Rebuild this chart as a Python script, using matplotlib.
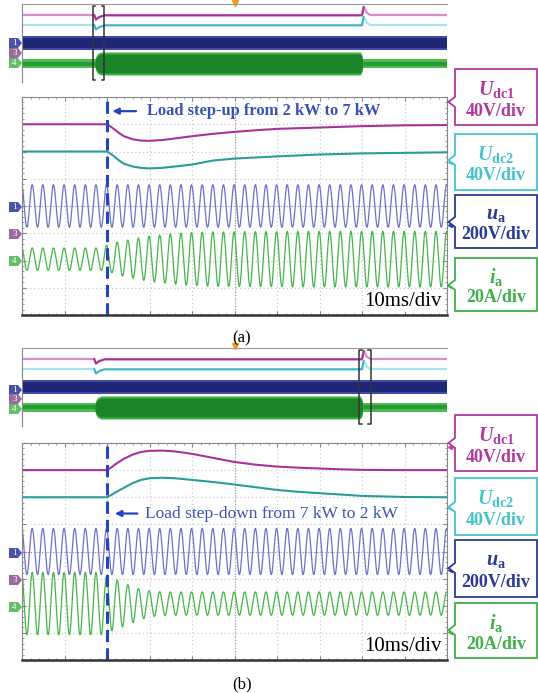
import matplotlib
matplotlib.use('Agg')
import matplotlib.pyplot as plt
import numpy as np
from matplotlib.patches import Polygon

plt.rcParams['font.family'] = ['Liberation Serif', 'DejaVu Serif']
plt.rcParams['mathtext.fontset'] = 'custom'
plt.rcParams['mathtext.it'] = 'Liberation Serif:italic:bold'
plt.rcParams['mathtext.rm'] = 'Liberation Serif:bold'
plt.rcParams['mathtext.bf'] = 'Liberation Serif:bold'

# ---------------- data (x: ms, y: divisions) ----------------
PERIOD_MS = 2.5          # 400 Hz
UA_PEAK_MS = 2.4         # first positive peak of ua
STEP_MS = 20

# (a) load step-up 2 kW -> 7 kW
udc1_t_a = [0, 20, 21, 22, 23, 24, 26, 28, 30, 33, 36, 40, 45, 50, 55, 60, 70, 80, 90, 100]
udc1_v_a = [3.0, 3.0, 2.9, 2.78, 2.66, 2.56, 2.45, 2.40, 2.39, 2.42, 2.48, 2.56, 2.65, 2.72, 2.78, 2.83, 2.88, 2.93, 2.96, 2.97]
udc2_t_a = [0, 20, 21, 22, 23, 24, 26, 28, 30, 33, 36, 40, 45, 50, 55, 60, 70, 80, 90, 100]
udc2_v_a = [2.0, 2.0, 1.9, 1.78, 1.65, 1.55, 1.45, 1.40, 1.38, 1.40, 1.45, 1.52, 1.67, 1.74, 1.78, 1.82, 1.89, 1.93, 1.95, 1.97]
ua_amp_a = 0.78
ia_center_a = -1.95
ia_amp_a = [0.41, 0.41, 0.41, 0.41, 0.41, 0.41, 0.41, 0.41, 0.50, 0.62,
            0.70, 0.78, 0.84, 0.88, 0.92, 0.95, 0.97, 0.99, 1.00, 1.00,
            1.00, 1.01, 1.01, 1.01, 1.01, 1.02, 1.02, 1.02, 1.02, 1.02,
            1.02, 1.02, 1.02, 1.02, 1.02, 1.02, 1.02, 1.02, 1.02, 1.02, 1.02]

# (b) load step-down 7 kW -> 2 kW
udc1_t_b = [0, 20, 21, 22, 24, 26, 28, 30, 33, 36, 40, 45, 50, 55, 60, 65, 70, 75, 80, 90, 100]
udc1_v_b = [3.0, 3.0, 3.1, 3.22, 3.42, 3.57, 3.67, 3.71, 3.72, 3.69, 3.60, 3.45, 3.30, 3.20, 3.13, 3.09, 3.06, 3.03, 3.01, 3.0, 3.0]
udc2_t_b = [0, 20, 21, 22, 24, 26, 28, 30, 33, 36, 40, 45, 50, 55, 60, 65, 70, 75, 80, 90, 100]
udc2_v_b = [2.0, 2.0, 2.08, 2.18, 2.35, 2.52, 2.64, 2.70, 2.72, 2.70, 2.64, 2.56, 2.47, 2.37, 2.27, 2.20, 2.15, 2.10, 2.05, 2.01, 2.0]
ua_amp_b = 0.85
ia_center_b = -1.92
ia_amp_b = [1.15, 1.15, 1.15, 1.15, 1.15, 1.15, 1.15, 1.15, 1.00, 0.86,
            0.70, 0.55, 0.47, 0.44, 0.43, 0.43, 0.43, 0.43, 0.43, 0.43,
            0.43, 0.43, 0.43, 0.43, 0.43, 0.43, 0.43, 0.43, 0.43, 0.43,
            0.43, 0.43, 0.43, 0.43, 0.43, 0.43, 0.43, 0.43, 0.43, 0.43, 0.43]

# overview strip (x: 0-100 of the long record, y: pixels below the strip top)
ov_t_udc1 = [0, 17.0, 17.4, 18.2, 19.5, 80.0, 80.4, 81.2, 82.0, 100]
ov_y_udc1 = [11, 11, 15.5, 13, 11.3, 11.3, 3, 9, 11, 11]
ov_t_udc2 = [0, 17.0, 17.4, 18.2, 19.5, 80.0, 80.4, 81.2, 82.0, 100]
ov_y_udc2 = [21, 21, 25.5, 23, 21.3, 21.3, 13, 19, 21, 21]
ov_ua_band = (32, 46)
ov_ia_band_light = (55, 64)
ov_ia_t = [17.0, 17.3, 17.8, 18.6, 79.6, 80.0, 80.3]
ov_ia_lo = [59.5, 53, 49.5, 48, 48, 51, 59.5]
ov_ia_hi = [59.5, 66, 69.5, 71, 71, 68, 59.5]
ov_heavy_window = (17.2, 80.2)

C_UDC1 = '#a8329a'
C_UDC2 = '#2a9d9a'
C_UA = '#6f6fcc'
C_IA = '#43b649'
C_DASH = '#2444c0'

W, H = 538, 693
fig = plt.figure(figsize=(W / 100, H / 100), dpi=100)


def px_axes(x0, y0, x1, y1):
    return fig.add_axes([x0 / W, 1 - y1 / H, (x1 - x0) / W, (y1 - y0) / H])


def sine_trace(t, amps, center):
    t0 = UA_PEAK_MS - PERIOD_MS / 4
    idx = np.clip(np.floor((t - t0) / PERIOD_MS).astype(int) + 1, 0, len(amps) - 1)
    a = np.asarray(amps)[idx]
    return center + a * np.sin(2 * np.pi * (t - t0) / PERIOD_MS)


def draw_overview(ax, bracket):
    ax.set_xlim(0, 100)
    ax.set_ylim(78, 0)
    for s in ['right', 'bottom']:
        ax.spines[s].set_visible(False)
    ax.spines['left'].set_color('#888888')
    ax.spines['top'].set_color('#999999')
    ax.set_xticks([])
    ax.set_yticks([])
    t0, t1 = ov_heavy_window
    for tt, yy, light, dark in [(ov_t_udc1, ov_y_udc1, '#d88ccc', '#a8329a'),
                                (ov_t_udc2, ov_y_udc2, '#a8e4ec', '#3cb8c0')]:
        ax.plot(tt, yy, color=light, lw=1.6)
        tt = np.array(tt)
        m = (tt >= t0 - 0.3) & (tt <= t1 + 0.3)
        ax.plot(tt[m], np.array(yy)[m], color=dark, lw=1.4)
    ax.fill_between([0, 100], *ov_ua_band, color='#4048a8', lw=0)
    ax.fill_between([0, 100], ov_ua_band[0] + 2, ov_ua_band[1] - 2, color='#1f2676', lw=0)
    ax.fill_between([0, 100], *ov_ia_band_light, color='#4cbc52', lw=0)
    ax.fill_between([0, 100], ov_ia_band_light[0] + 2.5, ov_ia_band_light[1] - 2.5, color='#2a9a34', lw=0)
    ax.fill_between(ov_ia_t, ov_ia_lo, ov_ia_hi, color='#3cb445', lw=0)
    ax.fill_between(ov_ia_t, np.array(ov_ia_lo) + 2, np.array(ov_ia_hi) - 2, color='#1c8429', lw=0)
    b0, b1 = bracket
    ax.plot([b0 + 0.6, b0, b0, b0 + 0.6], [2, 2, 76, 76], color='#333333', lw=1.1, clip_on=False)
    ax.plot([b1 - 0.6, b1, b1, b1 - 0.6], [2, 2, 76, 76], color='#333333', lw=1.1, clip_on=False)
    ax.plot([50], [-1.5], marker='v', color='#f39a1e', ms=5, clip_on=False)


def draw_main(ax, t1, v1, t2, v2, ua_amp, ia_amps, ia_center):
    ax.set_xlim(0, 100)
    ax.set_ylim(-4, 4)
    ax.set_xticks(np.arange(0, 101, 10))
    ax.set_yticks(np.arange(-4, 5, 1))
    ax.set_xticks(np.arange(0, 101, 2), minor=True)
    ax.set_yticks(np.arange(-4, 4.01, 0.2), minor=True)
    ax.tick_params(which='both', direction='in', labelbottom=False, labelleft=False,
                   color='#888888', top=True, right=True)
    ax.tick_params(which='major', length=3)
    ax.tick_params(which='minor', length=1.5)
    ax.grid(True, which='major', color='#c4c4c4', lw=0.8, linestyle=(0, (1, 2.5)))
    ax.axhline(0, color='#9a9a9a', lw=0.8, linestyle=(0, (1, 1.5)))
    ax.axvline(50, color='#9a9a9a', lw=0.8, linestyle=(0, (1, 1.5)))
    for s in ['top', 'left', 'right']:
        ax.spines[s].set_color('#888888')
    ax.spines['bottom'].set_color('#333333')
    ax.spines['bottom'].set_linewidth(1.8)

    t = np.linspace(0, 100, 6000)
    ax.plot(t, sine_trace(t, [ua_amp], 0), color=C_UA, lw=0.9)
    ax.plot(t, sine_trace(t, ia_amps, ia_center), color=C_IA, lw=0.9)
    ax.plot(t1, v1, color=C_UDC1, lw=1.5)
    ax.plot(t2, v2, color=C_UDC2, lw=1.5)
    ax.axvline(STEP_MS, color=C_DASH, lw=2.2, linestyle=(0, (4, 2)))
    for y, c in [(3.85, '#c040b0'), (1.6, '#40c8d0'), (-0.7, '#3040b0'), (-2.95, '#40b848')]:
        ax.plot([100.6], [y], marker='<', ms=3, color=c, clip_on=False)
    ax.text(98.8, -3.5, '10ms/div', ha='right', va='center', fontsize=15, color='black',
            bbox=dict(facecolor='white', edgecolor='none', pad=0.5))


# ---------------- panel (a) ----------------
ov_a = px_axes(22, 4, 447, 82)
draw_overview(ov_a, (16.6, 19.4))
ax_a = px_axes(22, 97, 447, 315)
draw_main(ax_a, udc1_t_a, udc1_v_a, udc2_t_a, udc2_v_a, ua_amp_a, ia_amp_a, ia_center_a)
ax_a.annotate('', xy=(20.6, 3.48), xytext=(27.5, 3.48),
              arrowprops=dict(arrowstyle='-|>', color=C_DASH, lw=1.6, mutation_scale=9))
ax_a.text(29.4, 3.48, 'Load step-up from 2 kW to 7 kW', ha='left', va='center',
          fontsize=11.9, fontweight='bold', color='#3a52b4')

# ---------------- panel (b) ----------------
ov_b = px_axes(22, 348, 447, 426)
draw_overview(ov_b, (79.3, 82.1))
ax_b = px_axes(22, 443, 447, 660)
draw_main(ax_b, udc1_t_b, udc1_v_b, udc2_t_b, udc2_v_b, ua_amp_b, ia_amp_b, ia_center_b)
ax_b.annotate('', xy=(21.2, 1.4), xytext=(27.8, 1.4),
              arrowprops=dict(arrowstyle='-|>', color=C_DASH, lw=1.6, mutation_scale=9))
ax_b.text(28.9, 1.4, 'Load step-down from 7 kW to 2 kW', ha='left', va='center',
          fontsize=12.5, color='#3a52b4')

# ---------------- overlay: labels, channel tags, captions ----------------
ov = fig.add_axes([0, 0, 1, 1])
ov.set_xlim(0, W)
ov.set_ylim(H, 0)
ov.axis('off')

labels = [r'$U_{\mathrm{dc1}}$', r'$U_{\mathrm{dc2}}$', r'$u_{\mathrm{a}}$', r'$i_{\mathrm{a}}$']
scales = ['40V/div', '40V/div', '200V/div', '20A/div']
label_colors = ['#b0389e', '#45c3cc', '#2b3a92', '#3fb04a']
boxes_a = [(69, 125, 102), (134, 190, 160), (195, 248, 222), (258, 311, 285)]
boxes_b = [(415, 471, 443), (478, 535, 507), (540, 597, 568), (603, 658, 630)]

for boxes in (boxes_a, boxes_b):
    for (top, bot, notch), lab, sc, col in zip(boxes, labels, scales, label_colors):
        pts = [(455, top), (537, top), (537, bot), (455, bot),
               (455, notch + 5), (448.5, notch), (455, notch - 5)]
        ov.add_patch(Polygon(pts, closed=True, facecolor='white', edgecolor=col, lw=1.3))
        h = bot - top
        ov.text(496, top + 0.36 * h, lab, ha='center', va='center', fontsize=14.5, color=col)
        ov.text(496, top + 0.75 * h, sc, ha='center', va='center', fontsize=13,
                fontweight='bold', color=col)

tag_cols = ['#4a52a8', '#9a6a9a', '#62be68']
tag_nums = ['1', '3', '4']
for ys in ([43, 53, 63], [207, 234, 261], [390, 399, 409], [553, 580, 607]):
    for y, c, n in zip(ys, tag_cols, tag_nums):
        ov.add_patch(Polygon([(9, y - 5), (18, y - 5), (22, y), (18, y + 5), (9, y + 5)],
                             closed=True, facecolor=c, edgecolor='none'))
        ov.text(14.5, y, n, ha='center', va='center', fontsize=6.5, color='white')

ov.text(242, 338, '(a)', ha='center', va='center', fontsize=12)
ov.text(242, 684, '(b)', ha='center', va='center', fontsize=12)

fig.savefig('out.png', dpi=100)
